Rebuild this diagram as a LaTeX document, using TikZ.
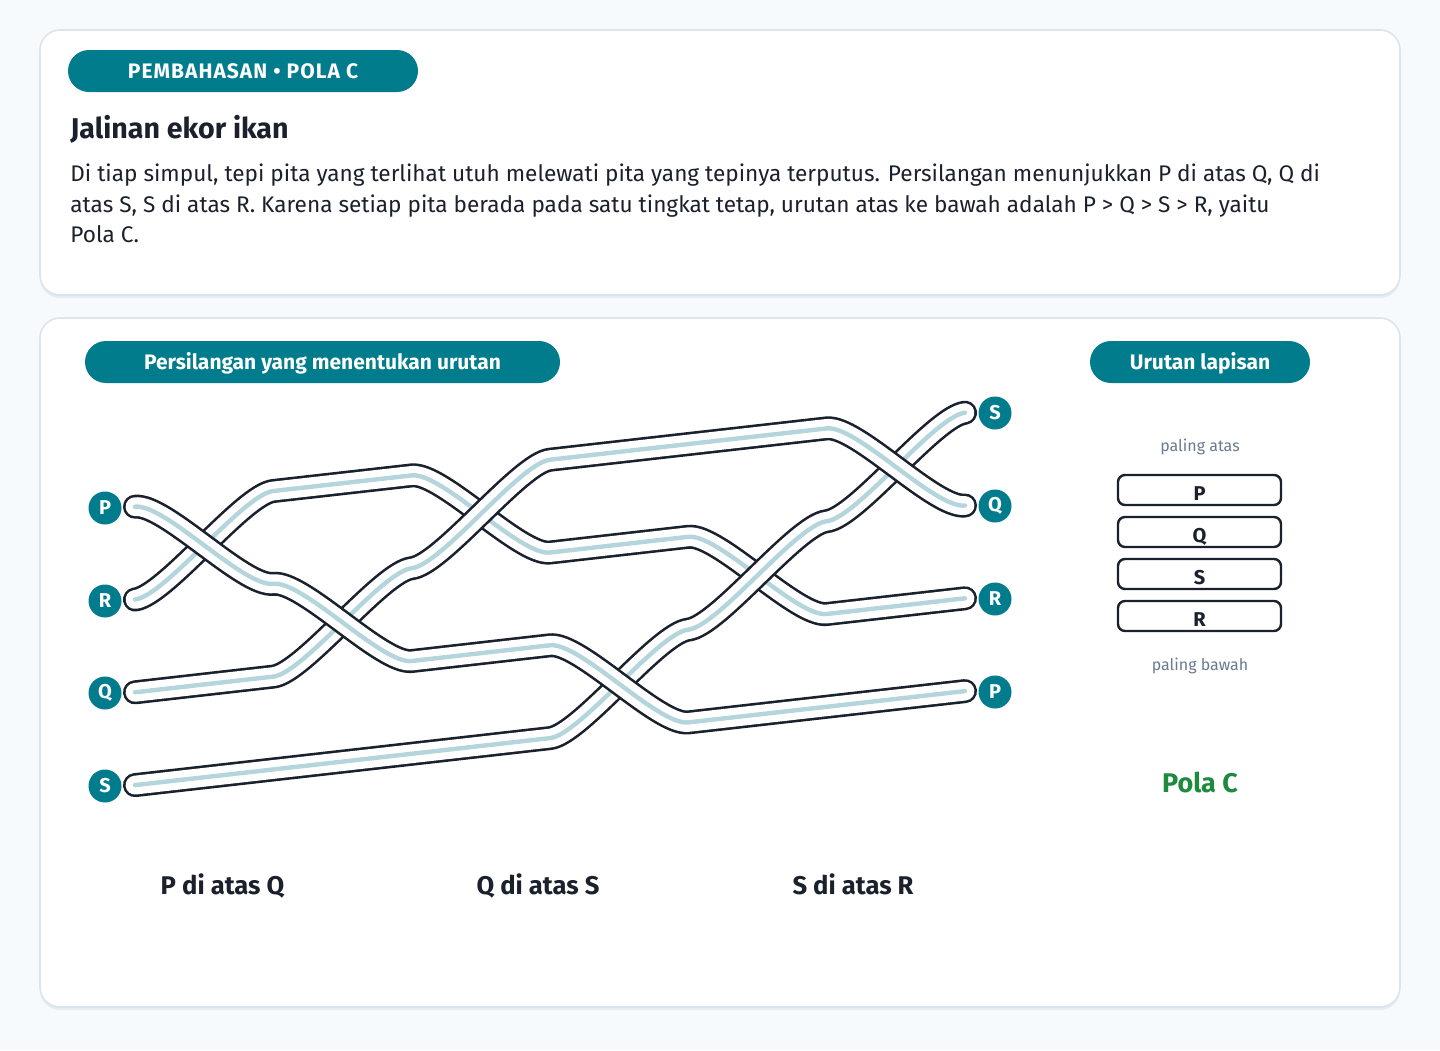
\documentclass[tikz,border=0pt]{standalone}
\usepackage{fontspec}
\setmainfont{Fira Sans}
\definecolor{tealc}{HTML}{007C8C}
\definecolor{ink}{HTML}{1A202C}
\definecolor{bgc}{HTML}{F7FAFD}
\definecolor{cardborder}{HTML}{DCE5EC}
\definecolor{shadowc}{HTML}{E6EDF2}
\definecolor{ribbonblue}{HTML}{B5D5DC}
\definecolor{graytext}{HTML}{6B7A90}
\definecolor{greentext}{HTML}{1E8A3E}
\newcommand\ribbon[1]{%
  \draw[line width=12pt, ink, line cap=round, line join=round] #1;
  \draw[line width=9.4pt, white, line cap=round, line join=round] #1;
  \draw[line width=2.2pt, ribbonblue, line cap=round, line join=round] #1;}
\tikzset{
  card/.style={draw=cardborder, fill=white, line width=0.8pt, rounded corners=10pt},
  cardshadow/.style={fill=shadowc, rounded corners=10pt},
  pill/.style={fill=tealc, text=white, rounded corners=10.5pt, minimum height=21pt,
    inner sep=0pt, font=\bfseries\fontsize{10.5}{12}\selectfont, text height=9.6pt, text depth=1.9pt},
  dot/.style={circle, fill=tealc, text=white, minimum size=16.5pt, inner sep=0pt,
    font=\bfseries\fontsize{10}{11}\selectfont},
  layerbox/.style={draw=ink, line width=1.2pt, rounded corners=3.5pt, minimum width=81.5pt,
    minimum height=15pt, inner sep=0pt, text=ink, font=\bfseries\fontsize{10}{11}\selectfont,
    text height=10.5pt, text depth=0pt},
  bodytxt/.style={anchor=base west, inner sep=0pt, text=ink, font=\fontsize{11.3}{13}\selectfont},
  crosslbl/.style={anchor=base, inner sep=0pt, text=ink, font=\bfseries\fontsize{12.8}{14}\selectfont},
  graylbl/.style={anchor=base, inner sep=0pt, text=graytext, font=\fontsize{8}{9}\selectfont}
}
\begin{document}
\begin{tikzpicture}[x=0.5pt,y=-0.5pt]
\useasboundingbox (0,0) rectangle (1440,1050);
\fill[bgc] (0,0) rectangle (1440,1050);
% cards
\fill[cardshadow] (40,33) rectangle (1400,298);
\draw[card] (40,30) rectangle (1400,295);
\fill[cardshadow] (40,321) rectangle (1400,1010);
\draw[card] (40,318) rectangle (1400,1007);
% top card
\node[pill, minimum width=175pt] (pill1) at (243,71) {\addfontfeature{LetterSpace=5}PEMBAHASAN • POLA C};
\node[anchor=base west, inner sep=0pt, text=ink, font=\bfseries\fontsize{14.3}{16}\selectfont] (title) at (70,138) {Jalinan ekor ikan};
\node[bodytxt] (body1) at (70,181.5) {Di tiap simpul, tepi pita yang terlihat utuh melewati pita yang tepinya terputus. Persilangan menunjukkan P di atas Q, Q di};
\node[bodytxt] (body2) at (70,212) {atas S, S di atas R. Karena setiap pita berada pada satu tingkat tetap, urutan atas ke bawah adalah P > Q > S > R, yaitu};
\node[bodytxt] (body3) at (70,242.5) {Pola C.};
% bottom card pills
\node[pill, minimum width=237.5pt] (pill2) at (322.5,362) {Persilangan yang menentukan urutan};
\node[pill, minimum width=110pt] (pill3) at (1200,362) {Urutan lapisan};
% ribbons: bottom layer first (R, S, Q, P)
\ribbon{(135,599.5) .. controls +(30,-3.4) and +(-30,3.4) .. (273.3,491.0) -- (411.7,475.4)
  .. controls +(30,-3.4) and +(-30,3.4) .. (550,552.5) -- (688.3,536.8)
  .. controls +(30,-3.4) and +(-30,3.4) .. (826.7,614.0) -- (965,598.3)}
\ribbon{(135,785.1) -- (550,738.1)
  .. controls +(30,-3.4) and +(-30,3.4) .. (688.3,629.6)
  .. controls +(30,-3.4) and +(-30,3.4) .. (826.7,521.2)
  .. controls +(30,-3.4) and +(-30,3.4) .. (965,412.7)}
\ribbon{(135,692.3) -- (273.3,676.6)
  .. controls +(30,-3.4) and +(-30,3.4) .. (411.7,568.2)
  .. controls +(30,-3.4) and +(-30,3.4) .. (550,459.7) -- (826.7,428.4)
  .. controls +(30,-3.4) and +(-30,3.4) .. (965,505.5)}
\ribbon{(135,506.7) .. controls +(30,-3.4) and +(-30,3.4) .. (273.3,583.8)
  .. controls +(30,-3.4) and +(-30,3.4) .. (411.7,661.0) -- (550,645.3)
  .. controls +(30,-3.4) and +(-30,3.4) .. (688.3,722.4) -- (965,691.1)}
% end labels
\node[dot] (lP) at (105,508) {P};
\node[dot] (lR) at (105,601) {R};
\node[dot] (lQ) at (105,693) {Q};
\node[dot] (lS) at (105,786) {S};
\node[dot] (rS) at (995,413) {S};
\node[dot] (rQ) at (995,506) {Q};
\node[dot] (rR) at (995,599) {R};
\node[dot] (rP) at (995,692) {P};
% crossing labels
\node[crosslbl] (c1) at (222.5,894) {P di atas Q};
\node[crosslbl] (c2) at (538,894) {Q di atas S};
\node[crosslbl] (c3) at (853,894) {S di atas R};
% layer order
\node[graylbl] (top) at (1200,451) {paling atas};
\node[layerbox] (b1) at (1199.5,490) {P};
\node[layerbox] (b2) at (1199.5,532) {Q};
\node[layerbox] (b3) at (1199.5,574) {S};
\node[layerbox] (b4) at (1199.5,616) {R};
\node[graylbl] (bot) at (1200,670) {paling bawah};
\node[anchor=base, inner sep=0pt, text=greentext, font=\bfseries\fontsize{13.5}{16}\selectfont] (pola) at (1200,792) {Pola C};
\end{tikzpicture}
\end{document}
